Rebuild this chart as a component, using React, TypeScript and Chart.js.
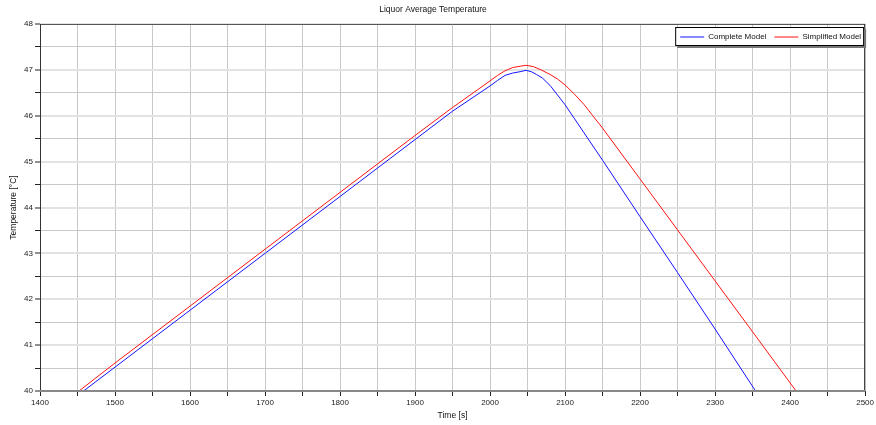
import React, { useEffect, useRef } from "react";
import { Chart, registerables } from "chart.js";

Chart.register(...registerables);

const chartTitle = "Liquor Average Temperature";
const xTitle = "Time [s]";
const yTitle = "Temperature [°C]";

const completeLabel = "Complete Model";
const completeTimes = [1458, 1500, 1600, 1700, 1800, 1900, 1950, 2000, 2010, 2020, 2030, 2040, 2048, 2055, 2062, 2070, 2080, 2090, 2100, 2150, 2200, 2250, 2300, 2354];
const completeTemps = [40.0, 40.52, 41.76, 43.0, 44.24, 45.48, 46.1, 46.65, 46.77, 46.88, 46.93, 46.96, 46.99, 46.96, 46.9, 46.82, 46.66, 46.45, 46.24, 45.03, 43.8, 42.58, 41.35, 40.0];

const simplifiedLabel = "Simplified Model";
const simplifiedTimes = [1452, 1500, 1600, 1700, 1800, 1900, 1950, 2000, 2010, 2020, 2030, 2040, 2048, 2058, 2068, 2080, 2090, 2100, 2112, 2125, 2137, 2150, 2200, 2250, 2300, 2350, 2408];
const simplifiedTemps = [40.0, 40.61, 41.85, 43.09, 44.33, 45.57, 46.18, 46.76, 46.88, 46.98, 47.05, 47.08, 47.1, 47.07, 47.0, 46.9, 46.8, 46.67, 46.48, 46.25, 46.0, 45.73, 44.62, 43.51, 42.4, 41.29, 40.0];

const xMin = 1400;
const xMax = 2500;
const yMin = 40;
const yMax = 48;

const FONT = "'Liberation Sans', Arial, sans-serif";

const framePlugin = {
  id: "frame",
  afterDatasetsDraw(chart: any) {
    const { ctx, chartArea } = chart;
    const { left, right, top, bottom } = chartArea;
    ctx.save();
    ctx.lineWidth = 1;
    ctx.strokeStyle = "#555555";
    ctx.beginPath();
    ctx.moveTo(left, top + 0.5);
    ctx.lineTo(right, top + 0.5);
    ctx.stroke();
    ctx.strokeStyle = "#333333";
    ctx.beginPath();
    ctx.moveTo(left + 0.5, top);
    ctx.lineTo(left + 0.5, bottom);
    ctx.moveTo(right - 0.5, top);
    ctx.lineTo(right - 0.5, bottom);
    ctx.stroke();
    ctx.strokeStyle = "#888888";
    ctx.lineWidth = 2;
    ctx.beginPath();
    ctx.moveTo(left, bottom);
    ctx.lineTo(right, bottom);
    ctx.stroke();
    ctx.restore();
  },
};

const legendPlugin = {
  id: "boxLegend",
  afterDraw(chart: any) {
    const { ctx, chartArea } = chart;
    const ds = chart.data.datasets;
    ctx.save();
    ctx.font = `8px ${FONT}`;
    const lineLen = 24;
    const gap = 4;
    const itemGap = 8;
    const padL = 5;
    const padR = 3;
    let w = padL + padR;
    ds.forEach((d: any, i: number) => {
      w += lineLen + gap + ctx.measureText(d.label).width;
      if (i < ds.length - 1) w += itemGap;
    });
    const h = 19;
    const x = chartArea.right - 1 - w;
    const y = chartArea.top + 3;
    ctx.fillStyle = "#777777";
    ctx.fillRect(x + 2, y + 2, w, h);
    ctx.fillStyle = "#ffffff";
    ctx.fillRect(x, y, w, h);
    ctx.strokeStyle = "#000000";
    ctx.lineWidth = 1;
    ctx.strokeRect(x + 0.5, y + 0.5, w - 1, h - 1);
    let cx = x + padL;
    const cy = y + h / 2;
    ctx.textBaseline = "middle";
    ctx.textAlign = "left";
    ds.forEach((d: any) => {
      ctx.strokeStyle = d.borderColor;
      ctx.beginPath();
      ctx.moveTo(cx, cy + 0.5);
      ctx.lineTo(cx + lineLen, cy + 0.5);
      ctx.stroke();
      cx += lineLen + gap;
      ctx.fillStyle = "#111111";
      ctx.fillText(d.label, cx, cy);
      cx += ctx.measureText(d.label).width + itemGap;
    });
    ctx.restore();
  },
};

export default function App() {
  const ref = useRef<HTMLCanvasElement | null>(null);

  useEffect(() => {
    document.body.style.margin = "0";
    const canvas = ref.current;
    if (!canvas) return;
    const chart = new Chart(canvas, {
      type: "line",
      data: {
        datasets: [
          {
            label: completeLabel,
            data: completeTimes.map((t, i) => ({ x: t, y: completeTemps[i] })),
            borderColor: "rgb(20,20,255)",
            borderWidth: 1,
            pointRadius: 0,
            tension: 0,
            fill: false,
          },
          {
            label: simplifiedLabel,
            data: simplifiedTimes.map((t, i) => ({ x: t, y: simplifiedTemps[i] })),
            borderColor: "rgb(255,20,20)",
            borderWidth: 1,
            pointRadius: 0,
            tension: 0,
            fill: false,
          },
        ],
      },
      options: {
        animation: false,
        responsive: false,
        maintainAspectRatio: false,
        layout: { padding: { top: 0, right: 10, bottom: 0, left: 0 } },
        plugins: {
          legend: { display: false },
          tooltip: { enabled: false },
          title: {
            display: true,
            text: chartTitle,
            color: "#111111",
            font: { family: FONT, size: 8.5, weight: "normal" },
            padding: { top: 5, bottom: 8.8 },
          },
        },
        scales: {
          x: {
            type: "linear",
            min: xMin,
            max: xMax,
            afterFit(scale: any) {
              scale.height = 34;
            },
            ticks: {
              stepSize: 50,
              autoSkip: false,
              maxRotation: 0,
              padding: 2,
              color: "#222222",
              font: { family: FONT, size: 8 },
              callback: (v: any) => (Number(v) % 100 === 0 ? String(v) : ""),
            },
            grid: {
              color: "#c8c8c8",
              lineWidth: 1,
              drawTicks: true,
              tickLength: 5,
              tickColor: "#222222",
              tickWidth: 1,
            },
            border: { display: false },
            title: {
              display: true,
              text: xTitle,
              color: "#111111",
              font: { family: FONT, size: 8.5 },
              padding: { top: 0, bottom: 4.4 },
            },
          },
          y: {
            type: "linear",
            min: yMin,
            max: yMax,
            afterFit(scale: any) {
              scale.width = 40;
            },
            ticks: {
              stepSize: 0.5,
              autoSkip: false,
              padding: 2,
              color: "#222222",
              font: { family: FONT, size: 8 },
              callback: (v: any) => (Number.isInteger(Number(v)) ? String(v) : ""),
            },
            grid: {
              color: (c: any) => (c.tick && Number.isInteger(c.tick.value) ? "#e2e2e2" : "#c8c8c8"),
              lineWidth: (c: any) => (c.tick && Number.isInteger(c.tick.value) ? 2 : 1),
              drawTicks: true,
              tickLength: 5,
              tickColor: "#222222",
              tickWidth: 1,
            },
            border: { display: false },
            title: {
              display: true,
              text: yTitle,
              color: "#111111",
              font: { family: FONT, size: 8.5 },
              padding: { top: 9, bottom: 0 },
            },
          },
        },
      },
      plugins: [framePlugin, legendPlugin],
    });
    return () => chart.destroy();
  }, []);

  return (
    <div style={{ width: 876, height: 425, background: "#ffffff" }}>
      <canvas ref={ref} width={876} height={425} style={{ display: "block" }} />
    </div>
  );
}
